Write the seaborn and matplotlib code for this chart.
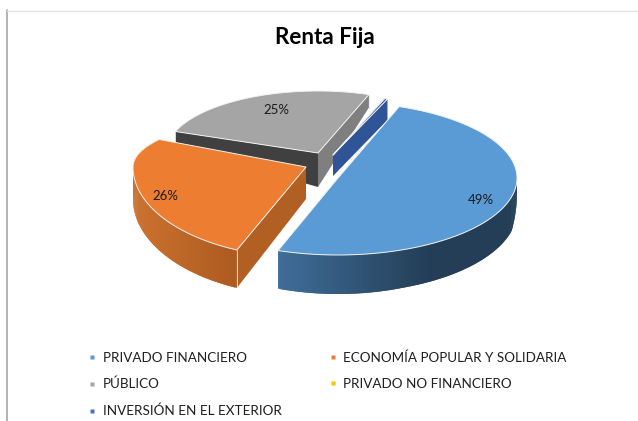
import numpy as np
import matplotlib
matplotlib.use("Agg")
import matplotlib.pyplot as plt
from matplotlib.lines import Line2D
from matplotlib.colors import to_rgb
import seaborn as sns

categories = ["PRIVADO FINANCIERO", "ECONOMÍA POPULAR Y SOLIDARIA", "PÚBLICO",
              "PRIVADO NO FINANCIERO", "INVERSIÓN EN EL EXTERIOR"]
values = [48.9, 25.9, 24.8, 0.1, 0.3]
legend_colors = ["#5b9bd5", "#ed7d31", "#a5a5a5", "#ffc000", "#4472c4"]
title = "Renta Fija"

# per-slice projection: vertex x, y, radius x, back radius y, front radius y, angle tweak, span stretch,
# label radius x, label radius y
geom = [
    (338, 178, 179, 76, 77, 0, 1.02, 0.85, 0.83),
    (306, 167, 173, 52, 90.5, -7.5, 1.056, 0.85, 1.07),
    (318, 153, 152, 62, 62, -1, 1.0, 0.65, 0.77),
    (333, 155, 152, 60, 60, -1, 1.0, None, None),
    (333, 155, 152, 60, 60, -1, 1.0, None, None),
]
START = 70.0
H_Y = [97, 127, 153, 167, 250, 260, 300]
H_V = [13, 11, 34, 32, 38, 40, 41]

sns.set_theme(style="white")
plt.rcParams["font.family"] = ["Lato", "DejaVu Sans"]
palette = sns.color_palette(legend_colors)

fig = plt.figure(figsize=(6.38, 4.21), dpi=100)
ax = fig.add_axes([0, 0, 1, 1])
ax.set_xlim(0, 638)
ax.set_ylim(421, 0)
ax.axis("off")

edges = START - np.cumsum([0] + values) * 3.6


def span(i):
    g = geom[i]
    t0 = edges[i]
    t1 = t0 + (edges[i + 1] - edges[i]) * g[6]
    return t0 + g[5], t1 + g[5]


def proj(g, t):
    t = np.radians(t)
    s = np.sin(t)
    by = np.where(s >= 0, g[3], g[4])
    return g[0] + g[2] * np.cos(t), g[1] - by * s


def height(y, fixed=None):
    return np.full_like(np.asarray(y, float), fixed) if fixed else np.interp(y, H_Y, H_V)


def mix(a, b, f):
    a, b = np.array(to_rgb(a)), np.array(to_rgb(b))
    return tuple(a + (b - a) * f)


def wall(g, t, color, fixed=None, z=1, line=True):
    xe, ye = proj(g, t)
    h0, h1 = height(np.array([g[1]]), fixed)[0], height(np.array([ye]), fixed)[0]
    ax.fill([g[0], xe, xe, g[0]], [g[1], ye, ye + h1, g[1] + h0], color=color, lw=0, zorder=z)
    if line:
        ax.plot([xe, xe], [ye, ye + h1], color="#f0e6dc", lw=0.6, zorder=z + 0.1)


def rim(g, t0, t1, c0, c1, xstop, z=1, taper=None):
    ts = np.linspace(t0, t1, 160)
    xs, ys = proj(g, ts)
    hs = height(ys)
    if taper:
        hs = hs * np.interp(ts, taper, [1, 0.3])
    x_min = xs.min()
    for i in range(len(ts) - 2):
        f = min(1, max(0, (xs[i] - x_min) / (xstop - x_min)))
        ax.fill([xs[i], xs[i + 2], xs[i + 2], xs[i]],
                [ys[i], ys[i + 2], ys[i + 2] + hs[i + 2], ys[i] + hs[i]],
                facecolor=mix(c0, c1, f), lw=0, zorder=z)


def top(g, t0, t1, color, z=2):
    ts = np.linspace(t0, t1, 200)
    xs, ys = proj(g, ts)
    ax.fill(np.r_[g[0], xs], np.r_[g[1], ys], facecolor=color, edgecolor="#f2f2f2", lw=0.7, zorder=z,
            joinstyle="round")


# grey slice
g = geom[2]
a0, a1 = span(2)
wall(g, a0, "#404040", z=1)
wall(g, a1 + 360, "#7f7f7f", z=1.2)
top(g, a0, a1, legend_colors[2], z=1.5)

# tiny back slices
g = geom[4]
wall(g, START + g[5], "#2f5597", fixed=21, z=1.6, line=False)
a0, a1 = span(3)
top(geom[3], a0 + 360, a1 + 360, legend_colors[3], z=1.7)
a0, a1 = span(4)
top(geom[4], a0 + 360, a1 + 360, "#2f5597", z=1.7)

# orange slice
g = geom[1]
a0, a1 = span(1)
rim(g, a1, a0, "#cc7230", "#ad5a20", 236, z=2)
wall(g, a0, "#b15f22", z=2.2)
top(g, a0, a1, legend_colors[1], z=2.5)

# blue slice
g = geom[0]
a0, a1 = span(0)
rim(g, a1, 4, "#3f6d99", "#233e56", 430, z=3, taper=[-14, 4])
top(g, a0, a1, legend_colors[0], z=3.5)

# percentage labels
for i in range(3):
    g = geom[i]
    mid = sum(span(i)) / 2
    x, y = proj(g, mid)
    x = g[0] + (x - g[0]) * g[7]
    y = g[1] + (y - g[1]) * g[8]
    ax.text(x, y, f"{values[i]:.0f}%", ha="center", va="center", fontsize=9.5, color="#1a1a1a", zorder=5)

ax.text(325, 38, title, ha="center", va="center", fontsize=16.2, fontweight="bold", color="black")

# frame lines
ax.plot([7, 7], [10, 421], color="#a6a6a6", lw=1.2, zorder=0)
ax.plot([7, 638], [10.5, 10.5], color="#e4e4e4", lw=1, zorder=0)

# legend
order = [0, 2, 4, 1, 3]
handles = [Line2D([], [], ls="", marker="s", ms=3.2, mec="none", mfc=palette[i]) for i in order]
ax.legend(handles, [categories[i] for i in order], ncol=2, frameon=False, fontsize=9.7,
          loc="upper left", bbox_to_anchor=(83 / 638, 1 - 351 / 421), bbox_transform=fig.transFigure,
          labelspacing=1.07, columnspacing=3.05, handletextpad=0.1, handlelength=1.4,
          labelcolor="#1f1f1f", borderaxespad=0, borderpad=0)

fig.savefig("out.png", dpi=100, facecolor="white")
